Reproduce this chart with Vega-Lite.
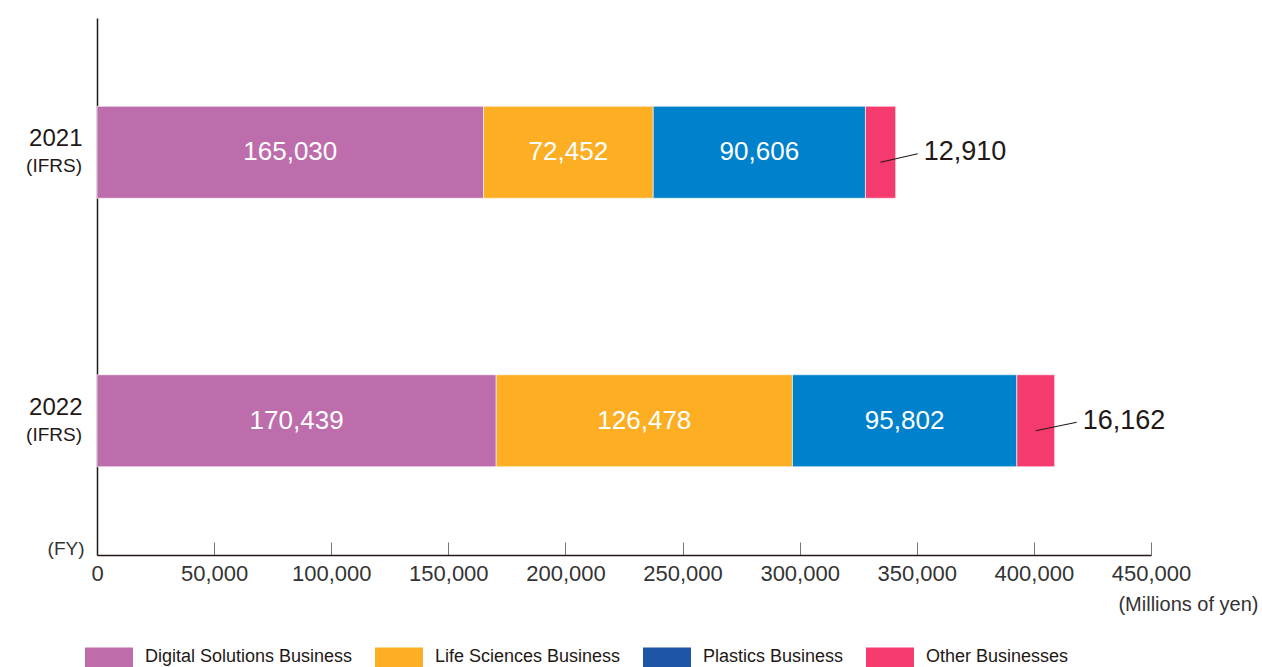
{
  "$schema": "https://vega.github.io/schema/vega-lite/v6.json",
  "width": 1054,
  "height": 537,
  "autosize": {"type": "none"},
  "padding": {"left": 97, "top": 18, "right": 111, "bottom": 112},
  "background": "white",
  "config": {"view": {"stroke": null}, "font": "Liberation Sans"},
  "data": {
    "values": [
      {"year": "2021", "segment": "Digital Solutions Business", "value": 165030, "order": 1},
      {"year": "2021", "segment": "Life Sciences Business", "value": 72452, "order": 2},
      {"year": "2021", "segment": "Plastics Business", "value": 90606, "order": 3},
      {"year": "2021", "segment": "Other Businesses", "value": 12910, "order": 4},
      {"year": "2022", "segment": "Digital Solutions Business", "value": 170439, "order": 1},
      {"year": "2022", "segment": "Life Sciences Business", "value": 126478, "order": 2},
      {"year": "2022", "segment": "Plastics Business", "value": 95802, "order": 3},
      {"year": "2022", "segment": "Other Businesses", "value": 16162, "order": 4}
    ]
  },
  "transform": [
    {"stack": "value", "groupby": ["year"], "sort": [{"field": "order", "order": "ascending"}], "as": ["v0", "v1"]},
    {"calculate": "(datum.v0 + datum.v1) / 2", "as": "mid"}
  ],
  "encoding": {
    "y": {
      "field": "year",
      "type": "nominal",
      "scale": {"paddingInner": 0, "paddingOuter": 0},
      "title": "(FY)",
      "axis": {
        "ticks": false,
        "domainColor": "#231815",
        "domainWidth": 1.5,
        "labelFontSize": 24,
        "labelColor": "#231815",
        "labelPadding": 15,
        "labelOffset": -13,
        "titleAngle": 0,
        "titleAlign": "right",
        "titleBaseline": "middle",
        "titleX": -13,
        "titleY": 530,
        "titleFontSize": 19,
        "titleFontWeight": "normal",
        "titleColor": "#333333"
      }
    }
  },
  "layer": [
    {
      "mark": {"type": "bar", "size": 92, "stroke": "white", "strokeWidth": 1, "strokeOpacity": 0.6},
      "encoding": {
        "x": {
          "field": "v0",
          "type": "quantitative",
          "scale": {"domain": [0, 450000]},
          "title": "(Millions of yen)",
          "axis": {
            "values": [0, 50000, 100000, 150000, 200000, 250000, 300000, 350000, 400000, 450000],
            "format": ",.0f",
            "grid": false,
            "labelFontSize": 22,
            "labelColor": "#333333",
            "labelFlush": false,
            "labelPadding": 21,
            "tickSize": -13,
            "tickColor": "#777777",
            "tickWidth": 1,
            "domainColor": "#231815",
            "domainWidth": 1.5,
            "titleFontSize": 20,
            "titleFontWeight": "normal",
            "titleColor": "#333333",
            "titleAlign": "right",
            "titleBaseline": "middle",
            "titleX": 1161,
            "titleY": 49
          }
        },
        "x2": {"field": "v1"},
        "fill": {
          "field": "segment",
          "type": "nominal",
          "scale": {
            "domain": ["Digital Solutions Business", "Life Sciences Business", "Plastics Business", "Other Businesses"],
            "range": ["#be6dac", "#fdae22", "#0081cc", "#f53b6e"]
          },
          "legend": null
        }
      }
    },
    {
      "mark": {"type": "bar", "size": 1, "opacity": 1},
      "encoding": {
        "x": {"datum": 0, "type": "quantitative"},
        "x2": {"datum": 0},
        "color": {
          "field": "segment",
          "type": "nominal",
          "sort": {"field": "order", "op": "min"},
          "scale": {
            "range": ["#bf6daa", "#fdae22", "#1f55a5", "#f53b6e"]
          },
          "legend": {
            "orient": "none",
            "legendX": -12,
            "legendY": 615,
            "direction": "horizontal",
            "title": null,
            "symbolType": "M-1,-0.42H1V0.42H-1Z",
            "symbolSize": 2304,
            "symbolStrokeWidth": 0,
            "symbolOpacity": 1,
            "labelFontSize": 18,
            "labelFont": "Liberation Sans",
            "labelColor": "#231815",
            "labelOffset": 12,
            "columnPadding": 22,
            "padding": 0,
            "labelLimit": 400
          }
        }
      }
    },
    {
      "transform": [{"filter": "datum.segment !== 'Other Businesses'"}],
      "mark": {"type": "text", "color": "white", "fontSize": 26},
      "encoding": {
        "x": {"field": "mid", "type": "quantitative"},
        "text": {"field": "value", "type": "quantitative", "format": ","}
      }
    },
    {
      "transform": [{"filter": "datum.segment === 'Other Businesses'"}],
      "mark": {"type": "rule", "color": "#231815", "strokeWidth": 1.2, "yOffset": 10, "y2Offset": 1.5, "x2Offset": 22},
      "encoding": {
        "x": {"field": "mid", "type": "quantitative"},
        "x2": {"field": "v1"},
        "y2": {"field": "year"}
      }
    },
    {
      "transform": [{"filter": "datum.segment === 'Other Businesses'"}],
      "mark": {"type": "text", "align": "left", "dx": 28, "fontSize": 27, "color": "#231815"},
      "encoding": {
        "x": {"field": "v1", "type": "quantitative"},
        "text": {"field": "value", "type": "quantitative", "format": ","}
      }
    },
    {
      "transform": [{"filter": "datum.order === 1"}],
      "mark": {"type": "text", "align": "right", "dx": -15, "dy": 14, "fontSize": 19, "color": "#231815"},
      "encoding": {
        "x": {"datum": 0, "type": "quantitative"},
        "text": {"value": "(IFRS)"}
      }
    }
  ]
}
